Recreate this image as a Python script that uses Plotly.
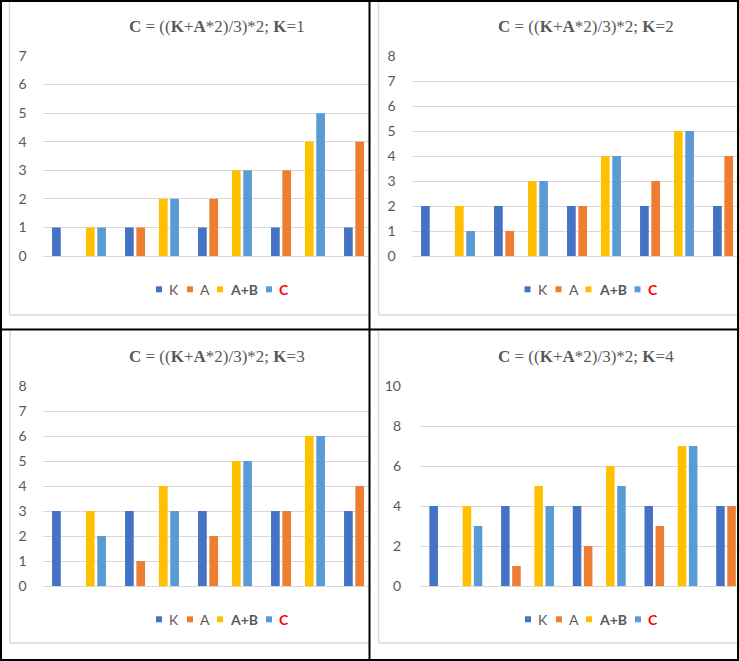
import plotly.graph_objects as go

W, H = 739, 661

# ---------------- data ----------------
CATS = ["0", "1", "2", "3", "4"]
SERIES = ["K", "A", "A+B", "C"]
COLORS = ["#4472C4", "#ED7D31", "#FFC000", "#5B9BD5"]

K1_K = [1, 1, 1, 1, 1]
K1_A = [0, 1, 2, 3, 4]
K1_AB = [1, 2, 3, 4, None]
K1_C = [1, 2, 3, 5, None]

K2_K = [2, 2, 2, 2, 2]
K2_A = [0, 1, 2, 3, 4]
K2_AB = [2, 3, 4, 5, None]
K2_C = [1, 3, 4, 5, None]

K3_K = [3, 3, 3, 3, 3]
K3_A = [0, 1, 2, 3, 4]
K3_AB = [3, 4, 5, 6, None]
K3_C = [2, 3, 5, 6, None]

K4_K = [4, 4, 4, 4, 4]
K4_A = [0, 1, 2, 3, 4]
K4_AB = [4, 5, 6, 7, None]
K4_C = [3, 4, 5, 7, None]

K_VALUES = [1, 2, 3, 4]
Y_MAX = [7, 8, 8, 10]
Y_DTICK = [1, 1, 1, 2]

PANEL_DATA = [
    [K1_K, K1_A, K1_AB, K1_C],
    [K2_K, K2_A, K2_AB, K2_C],
    [K3_K, K3_A, K3_AB, K3_C],
    [K4_K, K4_A, K4_AB, K4_C],
]

# ---------------- layout geometry (pixels) ----------------
GEOM = [
    dict(x0=42.5, x1=369, y0=56, y1=256, period=73.0, tcx=216.7, tcy=26, lx=156, ly=289.3, bl=9.5, bb=315, stand=15),
    dict(x0=411.5, x1=738, y0=56, y1=256, period=73.0, tcx=585.8, tcy=26, lx=524.5, ly=289.3, bl=378.5, bb=315, stand=15),
    dict(x0=42.5, x1=369, y0=386, y1=586, period=73.0, tcx=217.0, tcy=356, lx=156, ly=619.3, bl=10, bb=643, stand=15),
    dict(x0=420, x1=738, y0=386, y1=586, period=71.7, tcx=586.0, tcy=356, lx=525, ly=619.3, bl=378.5, bb=643, stand=18),
]

SLOT = 11.3 / 73.0      # spacing between bar slots (category units)
BW = 8.7 / 73.0         # bar width (category units)
SLOT_IDX = [-2, -1, 1, 2]  # middle slot is empty

GREY = "#595959"
GRID = "#D9D9D9"
TICKFONT = dict(family="Lato", size=14, color=GREY)


def px(x):
    return x / W


def py(y):
    return 1 - y / H


fig = go.Figure()
shapes = []
annotations = []

for p, (g, series_vals) in enumerate(zip(GEOM, PANEL_DATA)):
    n = p + 1
    xa = "x" if n == 1 else f"x{n}"
    ya = "y" if n == 1 else f"y{n}"
    for s, (name, vals, col, k) in enumerate(zip(SERIES, series_vals, COLORS, SLOT_IDX)):
        fig.add_trace(go.Bar(
            x=CATS, y=vals, name=name, xaxis=xa, yaxis=ya,
            marker=dict(color=col, line=dict(width=0)),
            width=BW, offset=k * SLOT - BW / 2,
            showlegend=False, hoverinfo="skip",
        ))
    xr = -0.5 + (g["x1"] - g["x0"]) / g["period"]
    fig.update_layout(**{
        ("xaxis" if n == 1 else f"xaxis{n}"): dict(
            domain=[px(g["x0"]), px(g["x1"])], anchor=ya, type="category",
            range=[-0.5, xr], showgrid=False, showticklabels=False,
            zeroline=False, showline=False, ticks="", fixedrange=True,
            automargin=False,
        ),
        ("yaxis" if n == 1 else f"yaxis{n}"): dict(
            domain=[py(g["y1"]), py(g["y0"])], anchor=xa,
            range=[0, Y_MAX[p]], dtick=Y_DTICK[p], tick0=0,
            showgrid=True, gridcolor=GRID, gridwidth=1,
            zeroline=True, zerolinecolor=GRID, zerolinewidth=1,
            showline=False, ticks="", tickfont=TICKFONT,
            ticklabelstandoff=g["stand"], fixedrange=True,
            automargin=False,
        ),
    })

    # title
    annotations.append(dict(
        x=px(g["tcx"]), y=py(g["tcy"]), xref="paper", yref="paper",
        xanchor="center", yanchor="middle", showarrow=False,
        text=f"<b>C</b> = ((<b>K</b>+<b>A</b>*2)/3)*2; <b>K</b>={K_VALUES[p]}",
        font=dict(family="Liberation Serif", size=17, color=GREY),
    ))

    # legend (custom)
    sq_off = [0, 31, 61, 110]
    tx_off = [12, 43, 73, 122]
    labels = ["K", "A", "<b>A+B</b>", "<b>C</b>"]
    lcols = [GREY, GREY, GREY, "#FF0000"]
    for i in range(4):
        x0 = g["lx"] + sq_off[i]
        shapes.append(dict(
            type="rect", xref="paper", yref="paper",
            x0=px(x0), x1=px(x0 + 6), y0=py(g["ly"] + 3), y1=py(g["ly"] - 3),
            fillcolor=COLORS[i], line=dict(width=0),
        ))
        annotations.append(dict(
            x=px(g["lx"] + tx_off[i] - 1), y=py(g["ly"]), xref="paper", yref="paper",
            xanchor="left", yanchor="middle", showarrow=False,
            text=labels[i], font=dict(family="Lato", size=14, color=lcols[i]),
        ))

    # chart-area border (light grey)
    top_px = 0 if p < 2 else 330
    right_px = 369 if p % 2 == 0 else 738
    shapes.append(dict(type="line", xref="paper", yref="paper",
                       x0=px(g["bl"]), x1=px(g["bl"]), y0=py(top_px), y1=py(g["bb"]),
                       line=dict(color=GRID, width=1.5)))
    shapes.append(dict(type="line", xref="paper", yref="paper",
                       x0=px(g["bl"]), x1=px(right_px), y0=py(g["bb"]), y1=py(g["bb"]),
                       line=dict(color=GRID, width=1.5)))

# black frame and dividers
BLACK = dict(color="#000000", width=2)
shapes += [
    dict(type="rect", xref="paper", yref="paper", x0=px(1), x1=px(738), y0=py(1), y1=py(660),
         line=BLACK, layer="above"),
    dict(type="line", xref="paper", yref="paper", x0=px(369.5), x1=px(369.5), y0=0, y1=1,
         line=BLACK, layer="above"),
    dict(type="line", xref="paper", yref="paper", x0=0, x1=1, y0=py(329.5), y1=py(329.5),
         line=BLACK, layer="above"),
]

fig.update_layout(
    width=W, height=H,
    margin=dict(l=0, r=0, t=0, b=0, pad=0, autoexpand=False),
    paper_bgcolor="white", plot_bgcolor="white",
    barmode="overlay", showlegend=False, hovermode=False,
    shapes=shapes, annotations=annotations,
)

POST = (
    "document.documentElement.style.margin='0';"
    "document.body.style.margin='0';"
    "document.body.style.overflow='hidden';"
)

fig.write_html(
    "out.html",
    config={"displayModeBar": False, "responsive": False, "staticPlot": True},
    post_script=POST,
)
